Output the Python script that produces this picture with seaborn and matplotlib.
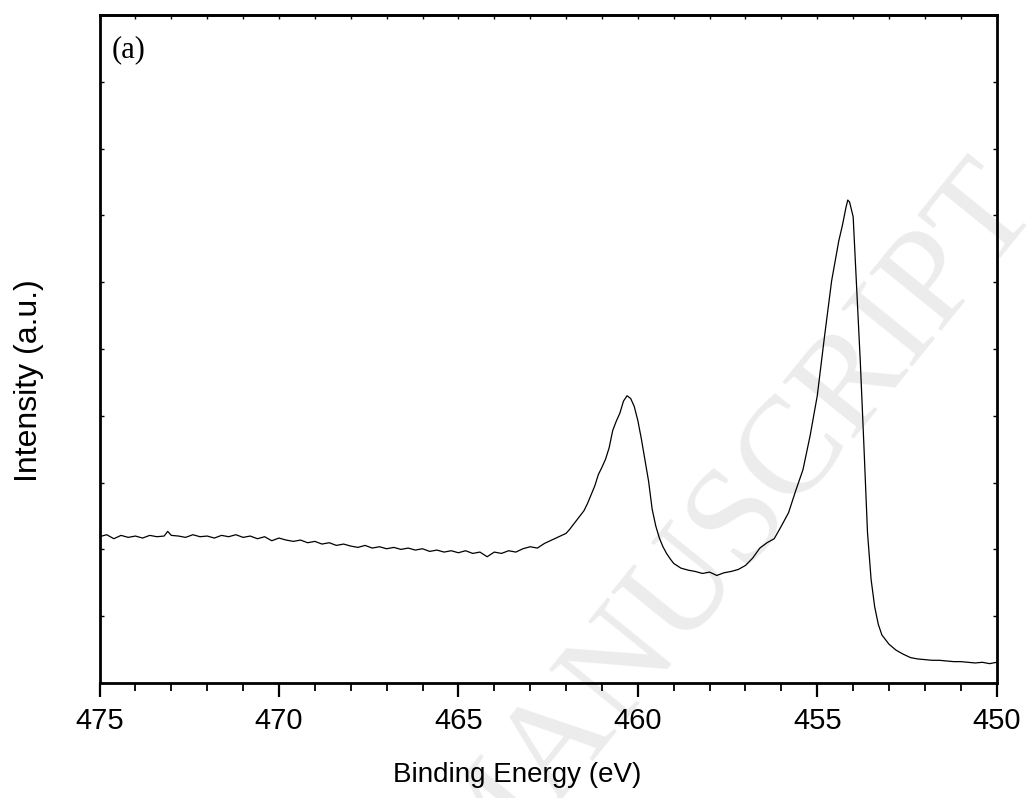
import matplotlib
matplotlib.use("Agg")
import matplotlib.pyplot as plt
import seaborn as sns
import pandas as pd
from matplotlib.ticker import MultipleLocator

# Binding energy (eV) and intensity (a.u.)
energy = [
    475.0, 474.8, 474.6, 474.4, 474.2, 474.0, 473.8, 473.6, 473.4, 473.2,
    473.1, 473.0, 472.8, 472.6, 472.4, 472.2, 472.0, 471.8, 471.6, 471.4,
    471.2, 471.0, 470.8, 470.6, 470.4, 470.2, 470.0, 469.8, 469.6, 469.4,
    469.2, 469.0, 468.8, 468.6, 468.4, 468.2, 468.0, 467.8, 467.6, 467.4,
    467.2, 467.0, 466.8, 466.6, 466.4, 466.2, 466.0, 465.8, 465.6, 465.4,
    465.2, 465.0, 464.8, 464.6, 464.4, 464.2, 464.0, 463.8, 463.6, 463.4,
    463.2, 463.0, 462.8, 462.6, 462.4, 462.2, 462.0, 461.9, 461.8, 461.7,
    461.6, 461.5, 461.4, 461.3, 461.2, 461.1, 461.0, 460.9, 460.8, 460.7,
    460.6, 460.5, 460.4, 460.3, 460.2, 460.1, 460.0, 459.9, 459.8, 459.7,
    459.6, 459.5, 459.4, 459.3, 459.2, 459.1, 459.0, 458.8, 458.6, 458.4,
    458.2, 458.0, 457.8, 457.6, 457.4, 457.2, 457.0, 456.8, 456.6, 456.4,
    456.2, 456.0, 455.8, 455.6, 455.4, 455.2, 455.0, 454.8, 454.6, 454.4,
    454.3, 454.2, 454.15, 454.1, 454.0, 453.9, 453.8, 453.7, 453.6, 453.5,
    453.4, 453.3, 453.2, 453.0, 452.8, 452.6, 452.4, 452.2, 452.0, 451.8,
    451.6, 451.4, 451.2, 451.0, 450.8, 450.6, 450.4, 450.2, 450.0,
]
intensity = [
    2.19, 2.22, 2.16, 2.21, 2.18, 2.20, 2.17, 2.21, 2.19, 2.20,
    2.27, 2.21, 2.20, 2.18, 2.22, 2.19, 2.20, 2.17, 2.21, 2.19,
    2.22, 2.18, 2.20, 2.16, 2.19, 2.13, 2.17, 2.14, 2.12, 2.14,
    2.10, 2.12, 2.08, 2.10, 2.06, 2.08, 2.05, 2.03, 2.06, 2.02,
    2.04, 2.01, 2.03, 2.00, 2.02, 1.99, 2.01, 1.97, 1.99, 1.96,
    1.98, 1.95, 1.98, 1.94, 1.96, 1.89, 1.96, 1.94, 1.98, 1.96,
    2.01, 2.04, 2.02, 2.09, 2.14, 2.19, 2.24, 2.30, 2.37, 2.44,
    2.51, 2.58, 2.69, 2.82, 2.95, 3.12, 3.23, 3.35, 3.52, 3.78,
    3.92, 4.04, 4.22, 4.30, 4.26, 4.14, 3.93, 3.65, 3.33, 3.02,
    2.60, 2.35, 2.17, 2.04, 1.94, 1.86, 1.79, 1.72, 1.69, 1.67,
    1.64, 1.66, 1.61, 1.65, 1.67, 1.70, 1.76, 1.87, 2.02, 2.10,
    2.16, 2.35, 2.55, 2.88, 3.19, 3.70, 4.30, 5.18, 6.02, 6.62,
    6.85, 7.12, 7.23, 7.20, 6.98, 5.90, 4.80, 3.55, 2.25, 1.55,
    1.14, 0.88, 0.72, 0.58, 0.49, 0.43, 0.38, 0.36, 0.35, 0.34,
    0.34, 0.33, 0.32, 0.32, 0.31, 0.30, 0.31, 0.29, 0.31,
]
x_ticks = [475, 470, 465, 460, 455, 450]
x_label = "Binding Energy (eV)"
y_label = "Intensity (a.u.)"
panel = "(a)"
watermark = "ACCEPTED MANUSCRIPT"

df = pd.DataFrame({"energy": energy, "intensity": intensity})

sns.set_style("ticks")
plt.rcParams["font.family"] = ["Liberation Sans", "DejaVu Sans"]
plt.rcParams["text.color"] = "black"
plt.rcParams["axes.labelcolor"] = "black"
plt.rcParams["xtick.color"] = "black"
plt.rcParams["ytick.color"] = "black"

fig = plt.figure(figsize=(10.27, 7.98), dpi=100)
ax = fig.add_axes([0.0969, 0.1441, 0.8736, 0.8371])
ax.set_zorder(2)
ax.patch.set_alpha(0)

# watermark behind everything
fig.text(0.483, -0.036, watermark, rotation=51, ha="center", va="center",
         fontsize=100, color="#ececec", family=["Liberation Serif"],
         zorder=0)

sns.lineplot(data=df, x="energy", y="intensity", ax=ax, color="black",
             linewidth=0.9, sort=False, estimator=None)

ax.set_xlim(475, 450)
ax.set_ylim(0, 10)
ax.set_xticks(x_ticks)
ax.set_xticklabels([str(t) for t in x_ticks])
ax.xaxis.set_minor_locator(MultipleLocator(1))
ax.yaxis.set_major_locator(MultipleLocator(1))
ax.set_yticklabels([])

for s in ax.spines.values():
    s.set_linewidth(2.0)
    s.set_color("black")

ax.tick_params(axis="x", which="major", direction="out", length=10, width=1.6,
               labelsize=21, pad=7, top=False, colors="black")
ax.tick_params(axis="x", which="minor", direction="out", length=6, width=1.3,
               top=False, colors="black")
ax.tick_params(axis="y", which="major", direction="in", length=3, width=1.0,
               left=True, right=True, labelleft=False, colors="black")

# top axis minor inward ticks
sec = ax.secondary_xaxis("top")
sec.set_xticks(range(450, 476))
sec.tick_params(direction="in", length=3, width=1.0, labeltop=False,
                colors="black")
sec.spines["top"].set_linewidth(2.0)

ax.set_xlabel(x_label, fontsize=20, color="black")
ax.xaxis.set_label_coords(0.466, -0.118)
ax.xaxis.label.set_va("top")
ax.set_ylabel(y_label, fontsize=23, color="black")
ax.yaxis.set_label_coords(-0.062, 0.452)

ax.text(0.014, 0.948, panel, transform=ax.transAxes, fontsize=22,
        family=["Liberation Serif"], ha="left", va="center", color="black")

fig.savefig("out.png", dpi=100)
